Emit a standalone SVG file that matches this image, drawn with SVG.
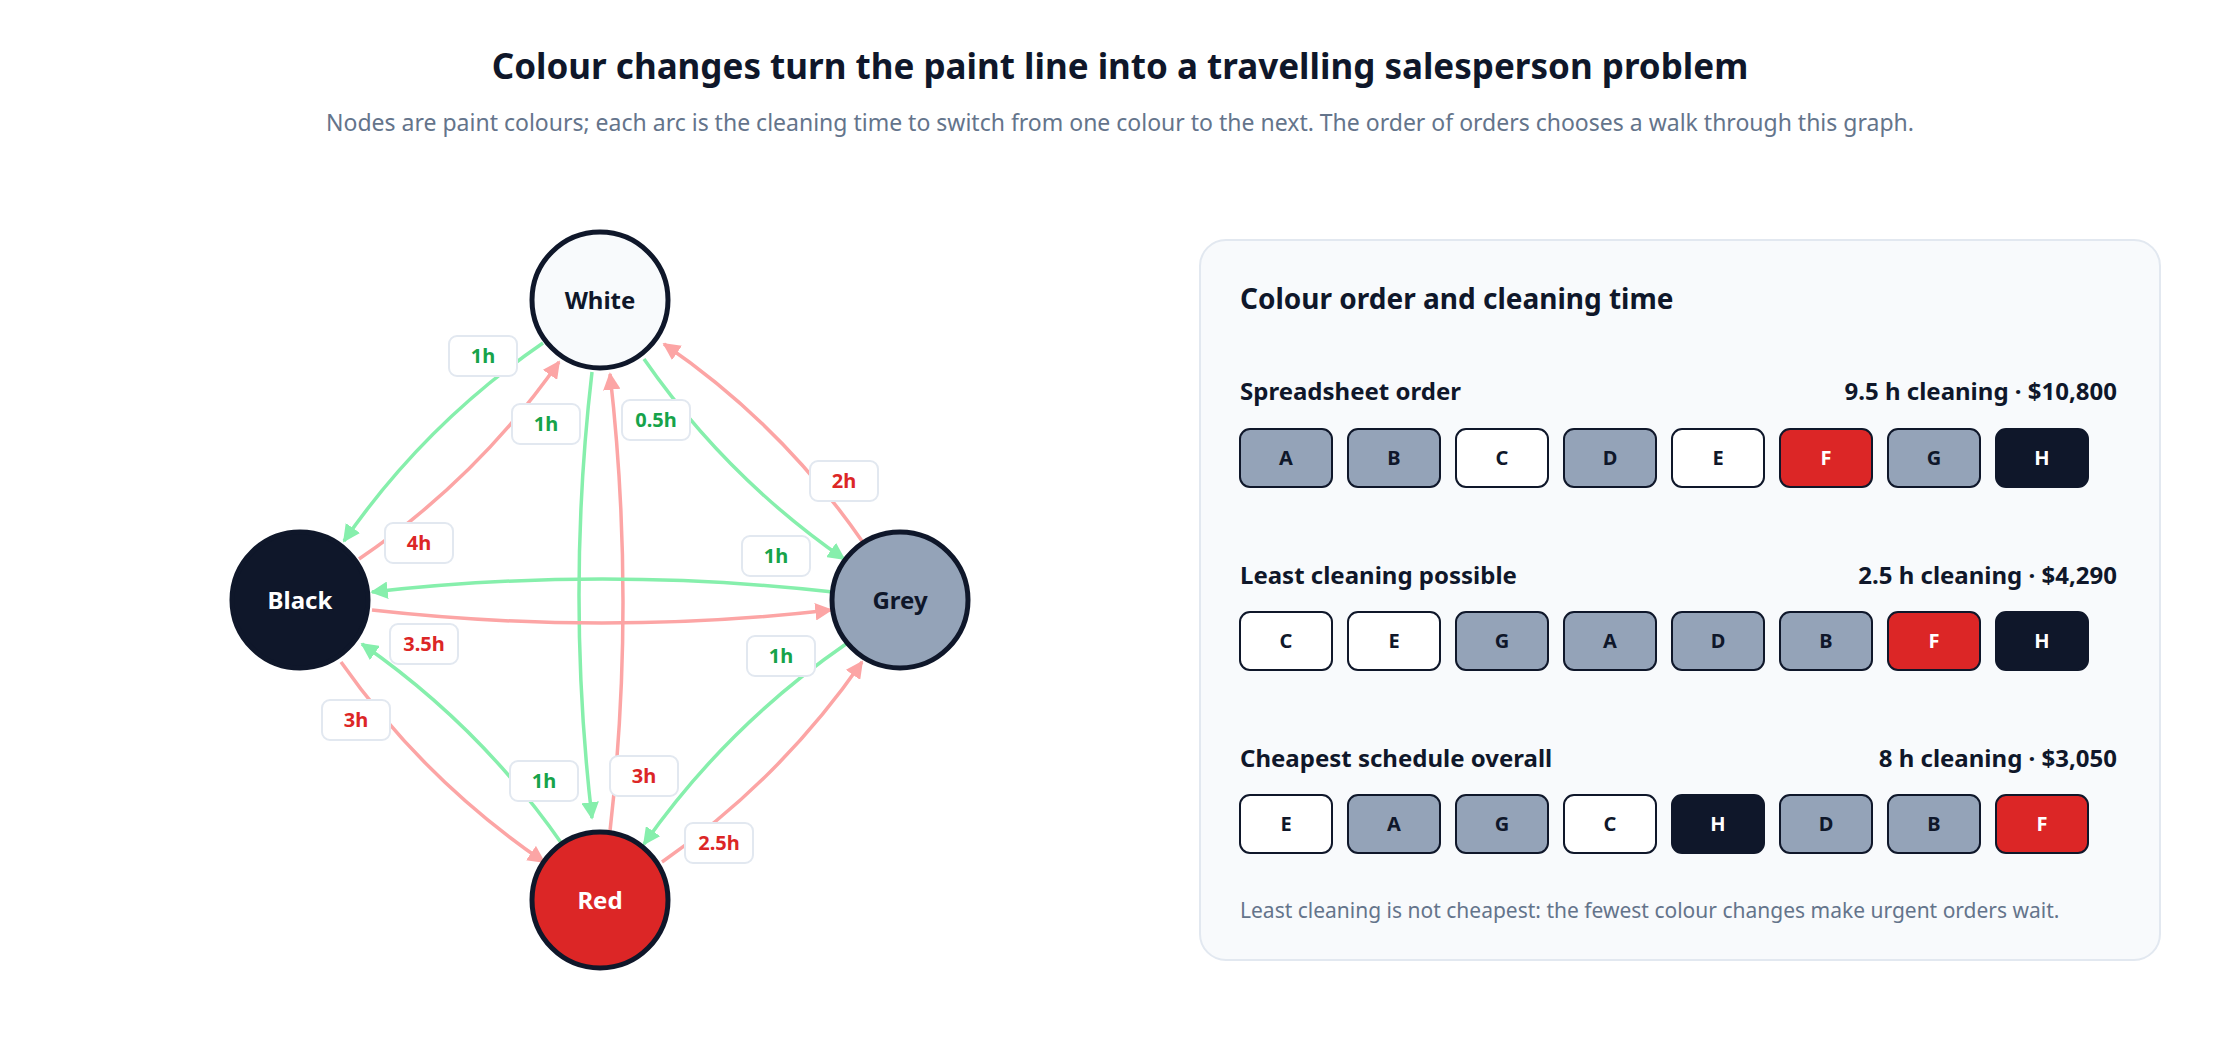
<svg xmlns="http://www.w3.org/2000/svg" width="2240" height="1040" viewBox="0 0 2240 1040">
<defs>
<marker id="ag" viewBox="0 0 10 10" refX="9" refY="5" markerWidth="5" markerHeight="5" orient="auto"><path d="M0,0L10,5L0,10z" fill="#86efac"/></marker>
<marker id="ar" viewBox="0 0 10 10" refX="9" refY="5" markerWidth="5" markerHeight="5" orient="auto"><path d="M0,0L10,5L0,10z" fill="#fca5a5"/></marker>
<style>
text{font-family:"Noto Sans","Open Sans","Liberation Sans",sans-serif}
.g{fill:none;stroke:#86efac;stroke-width:3.5;marker-end:url(#ag)}
.r{fill:none;stroke:#fca5a5;stroke-width:3.5;marker-end:url(#ar)}
.lb{fill:#fff;stroke:#e2e8f0;stroke-width:2}
.lg{fill:#16a34a;font-size:20px;font-weight:700;text-anchor:middle}
.lr{fill:#dc2626;font-size:20px;font-weight:700;text-anchor:middle}
.node{stroke:#0f172a;stroke-width:5}
.nt{font-size:24px;font-weight:700;text-anchor:middle}
.chip{stroke:#0f172a;stroke-width:2}
.ct{font-size:20px;font-weight:700;text-anchor:middle}
.gr{fill:#94a3b8}.wh{fill:#fff}.rd{fill:#dc2626}.bk{fill:#0f172a}
.rl{font-size:24px;font-weight:700;fill:#0f172a}
</style>
</defs>
<rect width="2240" height="1040" fill="#fff"/>
<text x="1120" y="79" text-anchor="middle" font-size="35" font-weight="700" fill="#0f172a">Colour changes turn the paint line into a travelling salesperson problem</text>
<text x="1120" y="131" text-anchor="middle" font-size="23" fill="#64748b">Nodes are paint colours; each arc is the cleaning time to switch from one colour to the next. The order of orders chooses a walk through this graph.</text>

<g id="connectors">
<path class="g" d="M543,343 Q425,424 344,541"/>
<path class="r" d="M359,559 Q477,479 559,362"/>
<path class="g" d="M592,372 Q566,595 592,818"/>
<path class="r" d="M610,831 Q636,602 610,374"/>
<path class="g" d="M644,359 Q726,477 844,559"/>
<path class="r" d="M862,541 Q781,424 664,344"/>
<path class="g" d="M833,592 Q602,566 372,592"/>
<path class="r" d="M372,610 Q602,636 831,610"/>
<path class="g" d="M562,844 Q480,726 362,644"/>
<path class="r" d="M341,662 Q424,780 544,862"/>
<path class="g" d="M846,644 Q727,726 644,844"/>
<path class="r" d="M662,862 Q780,780 862,662"/>
<g>
<rect class="lb" x="449" y="336" width="68" height="40" rx="8"/><text class="lg" x="483" y="363">1h</text>
<rect class="lb" x="385" y="523" width="68" height="40" rx="8"/><text class="lr" x="419" y="550">4h</text>
<rect class="lb" x="512" y="404" width="68" height="40" rx="8"/><text class="lg" x="546" y="431">1h</text>
<rect class="lb" x="610" y="756" width="68" height="40" rx="8"/><text class="lr" x="644" y="783">3h</text>
<rect class="lb" x="622" y="400" width="68" height="40" rx="8"/><text class="lg" x="656" y="427">0.5h</text>
<rect class="lb" x="810" y="461" width="68" height="40" rx="8"/><text class="lr" x="844" y="488">2h</text>
<rect class="lb" x="742" y="536" width="68" height="40" rx="8"/><text class="lg" x="776" y="563">1h</text>
<rect class="lb" x="390" y="624" width="68" height="40" rx="8"/><text class="lr" x="424" y="651">3.5h</text>
<rect class="lb" x="510" y="761" width="68" height="40" rx="8"/><text class="lg" x="544" y="788">1h</text>
<rect class="lb" x="322" y="700" width="68" height="40" rx="8"/><text class="lr" x="356" y="727">3h</text>
<rect class="lb" x="747" y="636" width="68" height="40" rx="8"/><text class="lg" x="781" y="663">1h</text>
<rect class="lb" x="685" y="823" width="68" height="40" rx="8"/><text class="lr" x="719" y="850">2.5h</text>
</g>
</g>

<g id="node-white"><circle class="node" cx="600" cy="300" r="68" fill="#f8fafc"/><text class="nt" x="600" y="309" fill="#0f172a">White</text></g>
<g id="node-black"><circle class="node" cx="300" cy="600" r="68" fill="#0f172a"/><text class="nt" x="300" y="609" fill="#fff">Black</text></g>
<g id="node-grey"><circle class="node" cx="900" cy="600" r="68" fill="#94a3b8"/><text class="nt" x="900" y="609" fill="#0f172a">Grey</text></g>
<g id="node-red"><circle class="node" cx="600" cy="900" r="68" fill="#dc2626"/><text class="nt" x="600" y="909" fill="#fff">Red</text></g>

<g id="panel">
<rect x="1200" y="240" width="960" height="720" rx="26" fill="#f8fafc" stroke="#e2e8f0" stroke-width="2"/>
<text x="1240" y="309" font-size="28" font-weight="700" fill="#0f172a">Colour order and cleaning time</text>

<text class="rl" x="1240" y="400">Spreadsheet order</text>
<text class="rl" x="2117" y="400" text-anchor="end">9.5 h cleaning · $10,800</text>
<g transform="translate(1240,429)">
<rect class="chip gr" x="0" y="0" width="92" height="58" rx="10"/><text class="ct" x="46" y="36" fill="#0f172a">A</text>
<rect class="chip gr" x="108" y="0" width="92" height="58" rx="10"/><text class="ct" x="154" y="36" fill="#0f172a">B</text>
<rect class="chip wh" x="216" y="0" width="92" height="58" rx="10"/><text class="ct" x="262" y="36" fill="#0f172a">C</text>
<rect class="chip gr" x="324" y="0" width="92" height="58" rx="10"/><text class="ct" x="370" y="36" fill="#0f172a">D</text>
<rect class="chip wh" x="432" y="0" width="92" height="58" rx="10"/><text class="ct" x="478" y="36" fill="#0f172a">E</text>
<rect class="chip rd" x="540" y="0" width="92" height="58" rx="10"/><text class="ct" x="586" y="36" fill="#fff">F</text>
<rect class="chip gr" x="648" y="0" width="92" height="58" rx="10"/><text class="ct" x="694" y="36" fill="#0f172a">G</text>
<rect class="chip bk" x="756" y="0" width="92" height="58" rx="10"/><text class="ct" x="802" y="36" fill="#fff">H</text>
</g>

<text class="rl" x="1240" y="584">Least cleaning possible</text>
<text class="rl" x="2117" y="584" text-anchor="end">2.5 h cleaning · $4,290</text>
<g transform="translate(1240,612)">
<rect class="chip wh" x="0" y="0" width="92" height="58" rx="10"/><text class="ct" x="46" y="36" fill="#0f172a">C</text>
<rect class="chip wh" x="108" y="0" width="92" height="58" rx="10"/><text class="ct" x="154" y="36" fill="#0f172a">E</text>
<rect class="chip gr" x="216" y="0" width="92" height="58" rx="10"/><text class="ct" x="262" y="36" fill="#0f172a">G</text>
<rect class="chip gr" x="324" y="0" width="92" height="58" rx="10"/><text class="ct" x="370" y="36" fill="#0f172a">A</text>
<rect class="chip gr" x="432" y="0" width="92" height="58" rx="10"/><text class="ct" x="478" y="36" fill="#0f172a">D</text>
<rect class="chip gr" x="540" y="0" width="92" height="58" rx="10"/><text class="ct" x="586" y="36" fill="#0f172a">B</text>
<rect class="chip rd" x="648" y="0" width="92" height="58" rx="10"/><text class="ct" x="694" y="36" fill="#fff">F</text>
<rect class="chip bk" x="756" y="0" width="92" height="58" rx="10"/><text class="ct" x="802" y="36" fill="#fff">H</text>
</g>

<text class="rl" x="1240" y="767">Cheapest schedule overall</text>
<text class="rl" x="2117" y="767" text-anchor="end">8 h cleaning · $3,050</text>
<g transform="translate(1240,795)">
<rect class="chip wh" x="0" y="0" width="92" height="58" rx="10"/><text class="ct" x="46" y="36" fill="#0f172a">E</text>
<rect class="chip gr" x="108" y="0" width="92" height="58" rx="10"/><text class="ct" x="154" y="36" fill="#0f172a">A</text>
<rect class="chip gr" x="216" y="0" width="92" height="58" rx="10"/><text class="ct" x="262" y="36" fill="#0f172a">G</text>
<rect class="chip wh" x="324" y="0" width="92" height="58" rx="10"/><text class="ct" x="370" y="36" fill="#0f172a">C</text>
<rect class="chip bk" x="432" y="0" width="92" height="58" rx="10"/><text class="ct" x="478" y="36" fill="#fff">H</text>
<rect class="chip gr" x="540" y="0" width="92" height="58" rx="10"/><text class="ct" x="586" y="36" fill="#0f172a">D</text>
<rect class="chip gr" x="648" y="0" width="92" height="58" rx="10"/><text class="ct" x="694" y="36" fill="#0f172a">B</text>
<rect class="chip rd" x="756" y="0" width="92" height="58" rx="10"/><text class="ct" x="802" y="36" fill="#fff">F</text>
</g>
<text x="1240" y="918" font-size="21" fill="#64748b">Least cleaning is not cheapest: the fewest colour changes make urgent orders wait.</text>
</g>
</svg>
